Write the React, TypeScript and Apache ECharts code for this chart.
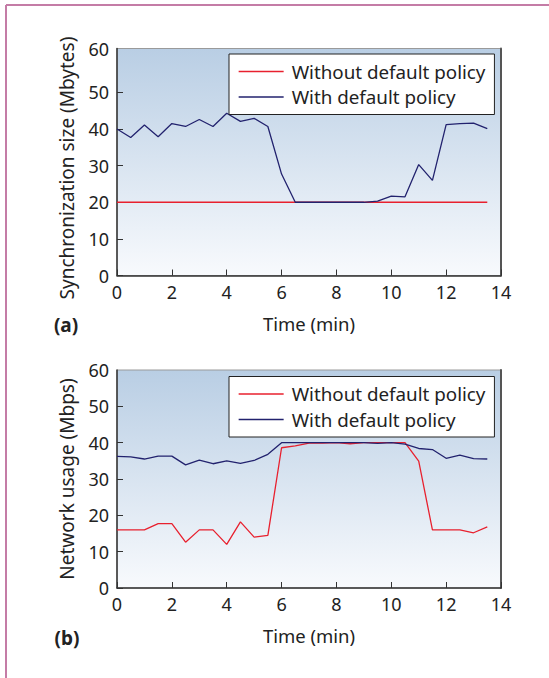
import React, { useEffect, useRef } from "react";
import * as echarts from "echarts";

const times = [0, 0.5, 1, 1.5, 2, 2.5, 3, 3.5, 4, 4.5, 5, 5.5, 6, 6.5, 7, 7.5, 8, 8.5, 9, 9.5, 10, 10.5, 11, 11.5, 12, 12.5, 13, 13.5];

// (a) Synchronization size (Mbytes)
const syncWithout = [20, 20, 20, 20, 20, 20, 20, 20, 20, 20, 20, 20, 20, 20, 20, 20, 20, 20, 20, 20, 20, 20, 20, 20, 20, 20, 20, 20];
const syncWith = [40, 37.7, 41.1, 37.9, 41.5, 40.7, 42.6, 40.7, 44.3, 42.1, 42.9, 40.7, 27.7, 20, 20, 20, 20, 20, 20, 20.3, 21.7, 21.5, 30.3, 26.0, 41.2, 41.5, 41.6, 40.1];

// (b) Network usage (Mbps)
const netWithout = [16.0, 16.0, 16.0, 17.7, 17.7, 12.6, 16.0, 16.0, 12.0, 18.2, 14.0, 14.5, 38.6, 39.1, 39.9, 39.9, 40, 39.7, 40, 40, 40, 40, 34.9, 16.0, 16.0, 16.0, 15.2, 16.8];
const netWith = [36.2, 36.1, 35.5, 36.3, 36.3, 33.9, 35.2, 34.2, 35.0, 34.3, 35.1, 36.8, 40, 40, 40, 40, 40, 40, 40, 39.8, 40, 39.6, 38.4, 38.1, 35.7, 36.6, 35.6, 35.5];

const xTicks = [0, 2, 4, 6, 8, 10, 12, 14];
const yTicks = [0, 10, 20, 30, 40, 50, 60];

const seriesNames = ["Without default policy", "With default policy"];
const RED = "#e8202e";
const NAVY = "#22226e";
const FONT = "Noto Sans";

export default function App() {
  const ref = useRef<HTMLDivElement>(null);
  useEffect(() => {
    if (!ref.current) return;
    const chart = echarts.init(ref.current, undefined, { renderer: "svg" });
    const bg = () =>
      new echarts.graphic.LinearGradient(0, 0, 0, 1, [
        { offset: 0, color: "#b9cee4" },
        { offset: 1, color: "#f8fafd" },
      ]);
    const grids = [
      { left: 117, top: 48.5, width: 384, height: 227 },
      { left: 117, top: 370, width: 384, height: 218 },
    ].map((g) => ({ ...g, show: true, backgroundColor: bg(), borderColor: "#9a9a9a", borderWidth: 1 }));

    const xAxis = [0, 1].map((gi) => ({
      type: "value",
      gridIndex: gi,
      min: 0,
      max: 14,
      interval: 2,
      name: "Time (min)",
      nameLocation: "middle",
      nameGap: 38,
      nameTextStyle: { fontFamily: FONT, fontSize: 18.5, color: "#222" },
      axisLine: { show: true, onZero: false, lineStyle: { color: "#333", width: 1.5 } },
      axisTick: { show: true, inside: true, length: 6, lineStyle: { color: "#333" } },
      axisLabel: { margin: 7, fontFamily: FONT, fontSize: 18, color: "#222", formatter: (v: number) => (xTicks.includes(v) ? String(v) : "") },
      splitLine: { show: false },
    }));

    const topMax = 62;
    const leftY = (gi: number, name: string, max: number, topLabelValue: number, namePad: number[]) => ({
      type: "value",
      gridIndex: gi,
      min: 0,
      max,
      position: "left",
      name,
      nameLocation: "middle",
      nameGap: 41,
      nameTextStyle: { fontFamily: FONT, fontSize: 19, color: "#222", padding: namePad },
      axisLine: { show: true, lineStyle: { color: "#333", width: 1.5 } },
      axisTick: { show: true, inside: true, length: 6, lineStyle: { color: "#333" }, customValues: yTicks.slice(0, -1) },
      axisLabel: {
        margin: 8,
        fontFamily: FONT,
        fontSize: 18,
        color: "#222",
        customValues: [...yTicks.slice(0, -1), topLabelValue],
        formatter: (v: number) => (v === topLabelValue ? String(yTicks[yTicks.length - 1]) : String(v)),
      },
      splitLine: { show: false },
    });
    const rightY = (gi: number) => ({
      type: "value",
      gridIndex: gi,
      min: 0,
      max: 1,
      position: "right",
      axisLine: { show: true, lineStyle: { color: "#555", width: 2 } },
      axisTick: { show: false },
      axisLabel: { show: false },
      splitLine: { show: false },
    });
    const yAxis = [
      leftY(0, "Synchronization size (Mbytes)", topMax, topMax, [0, 12, 0, 0]),
      rightY(0),
      leftY(1, "Network usage (Mbps)", 60, 60, [0, 0, 0, 0]),
      rightY(1),
    ];

    const mk = (name: string, vals: number[], color: string, xi: number, yi: number) => ({
      type: "line",
      name,
      xAxisIndex: xi,
      yAxisIndex: yi,
      data: times.map((t, i) => [t, vals[i]]),
      symbol: "none",
      lineStyle: { color, width: 1.3 },
      itemStyle: { color },
    });

    const legend = [54, 376.5].map((top) => ({
      data: seriesNames,
      orient: "vertical",
      left: 229,
      top,
      padding: [8, 9, 8, 9],
      itemWidth: 45,
      itemHeight: 16,
      itemGap: 6.5,
      backgroundColor: "#fff",
      borderColor: "#222",
      borderWidth: 1,
      borderRadius: 0,
      selectedMode: false,
      itemStyle: { opacity: 0 },
      lineStyle: { width: 1.3 },
      textStyle: { fontFamily: FONT, fontSize: 18.8, color: "#222", lineHeight: 16, padding: [0, 0, 0, 3] },
    }));

    chart.setOption({
      animation: false,
      grid: grids,
      xAxis,
      yAxis,
      legend,
      series: [
        mk(seriesNames[0], syncWithout, RED, 0, 0),
        mk(seriesNames[1], syncWith, NAVY, 0, 0),
        mk(seriesNames[0], netWithout, RED, 1, 2),
        mk(seriesNames[1], netWith, NAVY, 1, 2),
      ],
      graphic: [
        { type: "line", shape: { x1: 6, y1: 5, x2: 549, y2: 5 }, style: { stroke: "#c47ca6", lineWidth: 2 } },
        { type: "line", shape: { x1: 6, y1: 5, x2: 6, y2: 678 }, style: { stroke: "#c47ca6", lineWidth: 2 } },
        { type: "text", x: 66, y: 325, style: { text: "(a)", font: `bold 19px ${FONT}`, fill: "#222", align: "center", verticalAlign: "middle" } },
        { type: "text", x: 67, y: 638, style: { text: "(b)", font: `bold 19px ${FONT}`, fill: "#222", align: "center", verticalAlign: "middle" } },
      ],
    });
    return () => chart.dispose();
  }, []);
  return <div ref={ref} style={{ position: "absolute", left: 0, top: 0, width: 549, height: 678 }} />;
}
